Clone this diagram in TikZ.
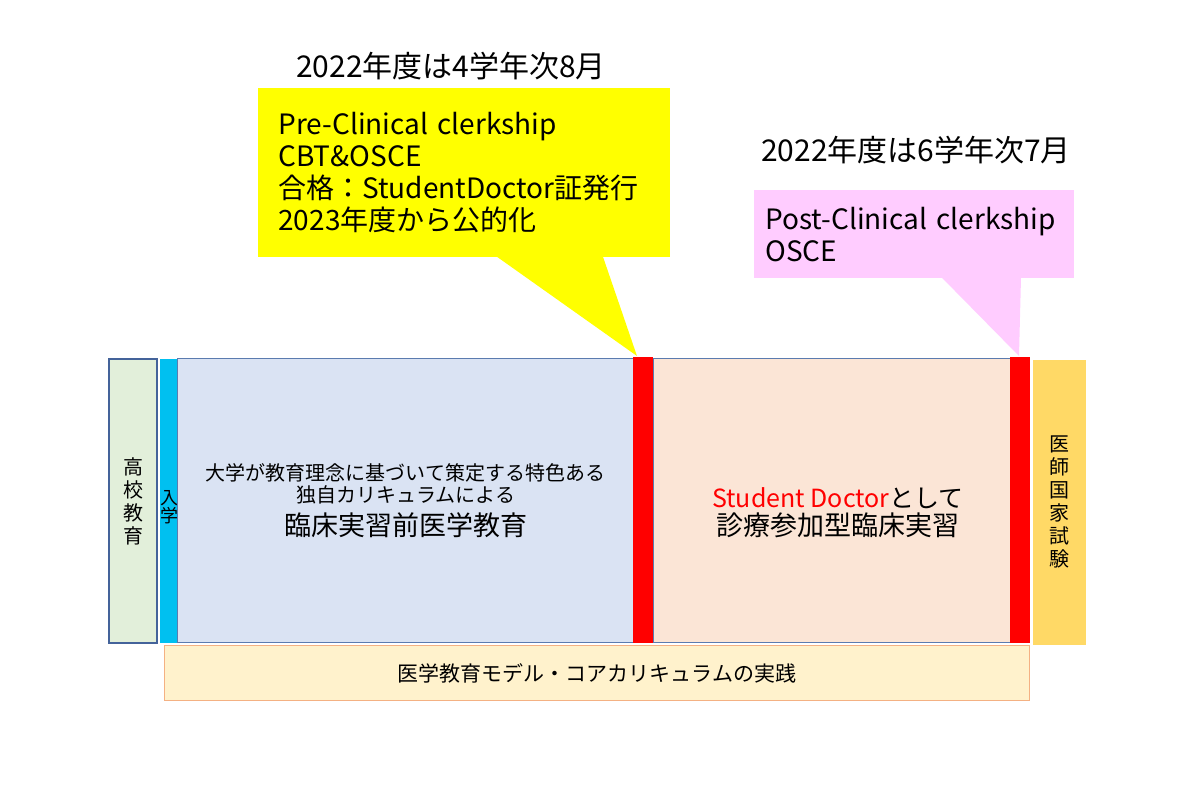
\documentclass[tikz,border=0pt]{standalone}
\usepackage{fontspec}
\setmainfont{Noto Sans CJK JP}
\usetikzlibrary{positioning,calc}

\definecolor{hsgreen}{HTML}{E2EFDA}
\definecolor{entrycyan}{HTML}{00C0F0}
\definecolor{preblue}{HTML}{DAE3F3}
\definecolor{clinpeach}{HTML}{FBE5D6}
\definecolor{examgold}{HTML}{FFD966}
\definecolor{corecream}{HTML}{FFF2CC}
\definecolor{coreedge}{HTML}{F4B183}
\definecolor{frameblue}{HTML}{5B7BAF}
\definecolor{darkframe}{HTML}{44639A}
\definecolor{calloutyellow}{HTML}{FFFF00}
\definecolor{calloutpink}{HTML}{FFCCFF}

\begin{document}
\begin{tikzpicture}[x=0.5pt, y=-0.5pt,
    band/.style={rectangle, draw=frameblue, line width=0.6pt, anchor=north west, inner sep=0pt, minimum height=142pt},
    redbar/.style={rectangle, fill=red, anchor=north west, inner sep=0pt, minimum width=10pt, minimum height=143pt},
    callout/.style={rectangle, anchor=north west, align=left, inner xsep=10pt, inner ysep=0pt, font=\fontsize{14}{16}\selectfont},
    vtext/.style={align=center, font=\fontsize{10}{11.5}\selectfont},
    header/.style={font=\fontsize{15}{17}\selectfont}]

    \useasboundingbox (0,0) rectangle (1200,800);

    % timeline bands
    \node [band, fill=hsgreen, draw=darkframe, line width=1pt, minimum width=24pt, vtext] (highschool) at (108,358) {高\\校\\教\\育};
    \node [band, fill=entrycyan, draw=none, minimum width=9pt] (entry) at (159,358) {};
    \node [vtext, font=\fontsize{9}{9}\selectfont] (entrytext) at (169,507) {入\\学};
    \node [band, fill=preblue, minimum width=228pt] (precl) at (177,358) {};
    \node [band, fill=clinpeach, minimum width=178.5pt] (clin) at (653,358) {};
    \node [redbar] (cbt) at (633,357) {};
    \node [redbar] (postosce) at (1010,357) {};
    \node [band, fill=examgold, draw=none, minimum width=26.5pt, minimum height=142.5pt, vtext] (exam) at (1032,359) {医\\師\\国\\家\\試\\験};
    \node [band, fill=corecream, draw=coreedge, minimum width=432.5pt, minimum height=27.5pt, font=\fontsize{10.5}{12}\selectfont] (core) at (164,645) {医学教育モデル・コアカリキュラムの実践};

    % band texts
    \node [align=center, font=\fontsize{10}{11}\selectfont] (pretext) at (precl.center) {大学が教育理念に基づいて策定する特色ある\\独自カリキュラムによる\\[3pt]{\fontsize{13.5}{15}\selectfont 臨床実習前医学教育}};
    \node [align=center, font=\fontsize{12.5}{14}\selectfont] (clintext) at (838,513) {{\color{red}Student Doctor}として\\{\fontsize{13.5}{15}\selectfont 診療参加型臨床実習}};

    % callouts
    \node [header] (preyear) at (451,66) {2022年度は4学年次8月};
    \node [callout, fill=calloutyellow, text width=186pt, minimum width=206pt, minimum height=84.5pt] (precallout) at (258,88) {Pre-Clinical clerkship\\CBT\&OSCE\\合格：StudentDoctor証発行\\2023年度から公的化};
    \coordinate (pretip) at (637,356);
    \fill [calloutyellow] ([xshift=119.5pt, yshift=0.5pt]precallout.south west) -- ([xshift=172.5pt, yshift=0.5pt]precallout.south west) -- (pretip) -- cycle;

    \node [header] (postyear) at (916,150) {2022年度は6学年次7月};
    \node [callout, fill=calloutpink, inner xsep=5.5pt, text width=149pt, minimum width=160pt, minimum height=44pt] (postcallout) at (754,190) {Post-Clinical clerkship\\OSCE};
    \coordinate (posttip) at (1019,356);
    \fill [calloutpink] ([xshift=94pt, yshift=0.5pt]postcallout.south west) -- ([xshift=133.5pt, yshift=0.5pt]postcallout.south west) -- (posttip) -- cycle;
\end{tikzpicture}
\end{document}
